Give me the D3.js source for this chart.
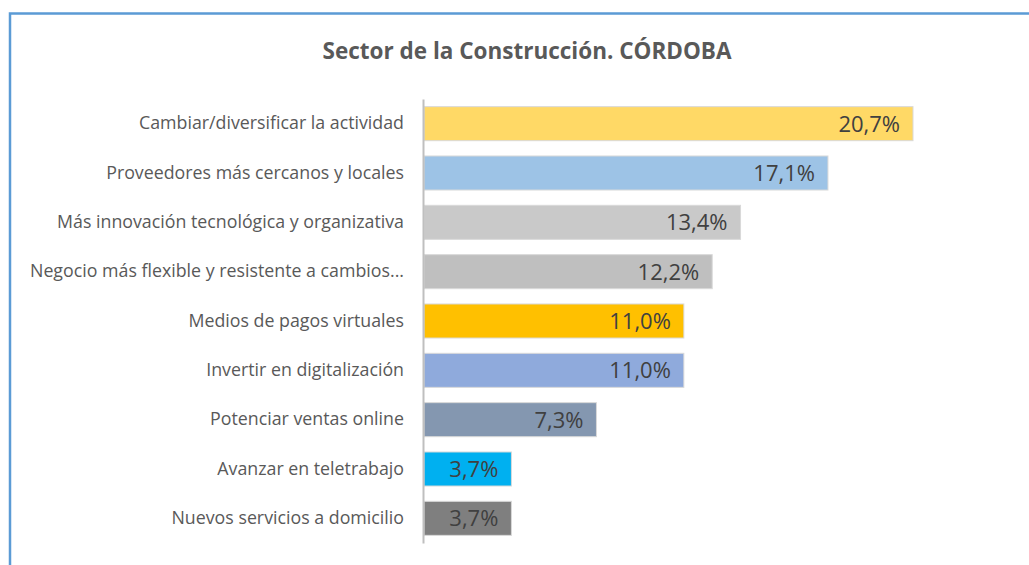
<!DOCTYPE html>
<html>
<head>
<meta charset="utf-8">
<script src="https://cdn.jsdelivr.net/npm/d3@7"></script>
<style>
  body { margin: 0; background: #fff; }
  svg { display: block; font-family: "Open Sans", sans-serif; }
</style>
</head>
<body>
<svg></svg>
<script>
// data
const categories = [
  "Cambiar/diversificar la actividad",
  "Proveedores más cercanos y locales",
  "Más innovación tecnológica y organizativa",
  "Negocio más flexible y resistente a cambios...",
  "Medios de pagos virtuales",
  "Invertir en digitalización",
  "Potenciar ventas online",
  "Avanzar en teletrabajo",
  "Nuevos servicios a domicilio"
];
const values = [20.7, 17.1, 13.4, 12.2, 11.0, 11.0, 7.3, 3.7, 3.7];
const colors = ["#ffd966", "#9dc3e6", "#c9c9c9", "#bfbfbf", "#ffc000", "#8faadc", "#8497b0", "#00b0f0", "#7f7f7f"];
const title = "Sector de la Construcción. CÓRDOBA";

/* basic setup */
const width = 1029, height = 565;
const svg = d3.select("svg").attr("width", width).attr("height", height);

// frame (only top + left are visible)
svg.append("rect")
  .attr("x", 10).attr("y", 13.5)
  .attr("width", 1100).attr("height", 700)
  .attr("fill", "none")
  .attr("stroke", "#5b9bd5")
  .attr("stroke-width", 2.5);

svg.append("text")
  .attr("x", 527).attr("y", 59)
  .attr("text-anchor", "middle")
  .attr("font-size", 22.5)
  .attr("font-weight", "bold")
  .attr("fill", "#595959")
  .text(title);

const x = d3.scaleLinear().domain([0, 20.7]).range([424, 913]);
const y = d3.scaleBand().domain(categories).range([99, 543]).paddingInner(0.31).paddingOuter(0.155);

// bars
svg.selectAll("rect.bar")
  .data(values)
  .enter()
  .append("rect")
  .attr("class", "bar")
  .attr("x", x(0))
  .attr("y", (d, i) => y(categories[i]))
  .attr("width", d => x(d) - x(0))
  .attr("height", y.bandwidth())
  .attr("fill", (d, i) => colors[i])
  .attr("stroke", "#d9d9d9")
  .attr("stroke-width", 1);

// value labels
svg.selectAll("text.val")
  .data(values)
  .enter()
  .append("text")
  .attr("class", "val")
  .attr("x", d => x(d) - 13)
  .attr("y", (d, i) => y(categories[i]) + y.bandwidth() / 2)
  .attr("dy", "0.36em")
  .attr("text-anchor", "end")
  .attr("font-size", 22)
  .attr("fill", "#404040")
  .text(d => d.toFixed(1).replace(".", ",") + "%");

// category axis
const yAxis = d3.axisLeft(y).tickSize(0).tickPadding(19);
const g = svg.append("g")
  .attr("transform", `translate(${x(0) - 1},0)`)
  .call(yAxis);
g.select(".domain").attr("stroke", "#bfbfbf").attr("stroke-width", 2);
g.selectAll("text")
  .attr("font-size", 17.8)
  .attr("font-family", "'Open Sans', sans-serif")
  .attr("fill", "#595959");
</script>
</body>
</html>
